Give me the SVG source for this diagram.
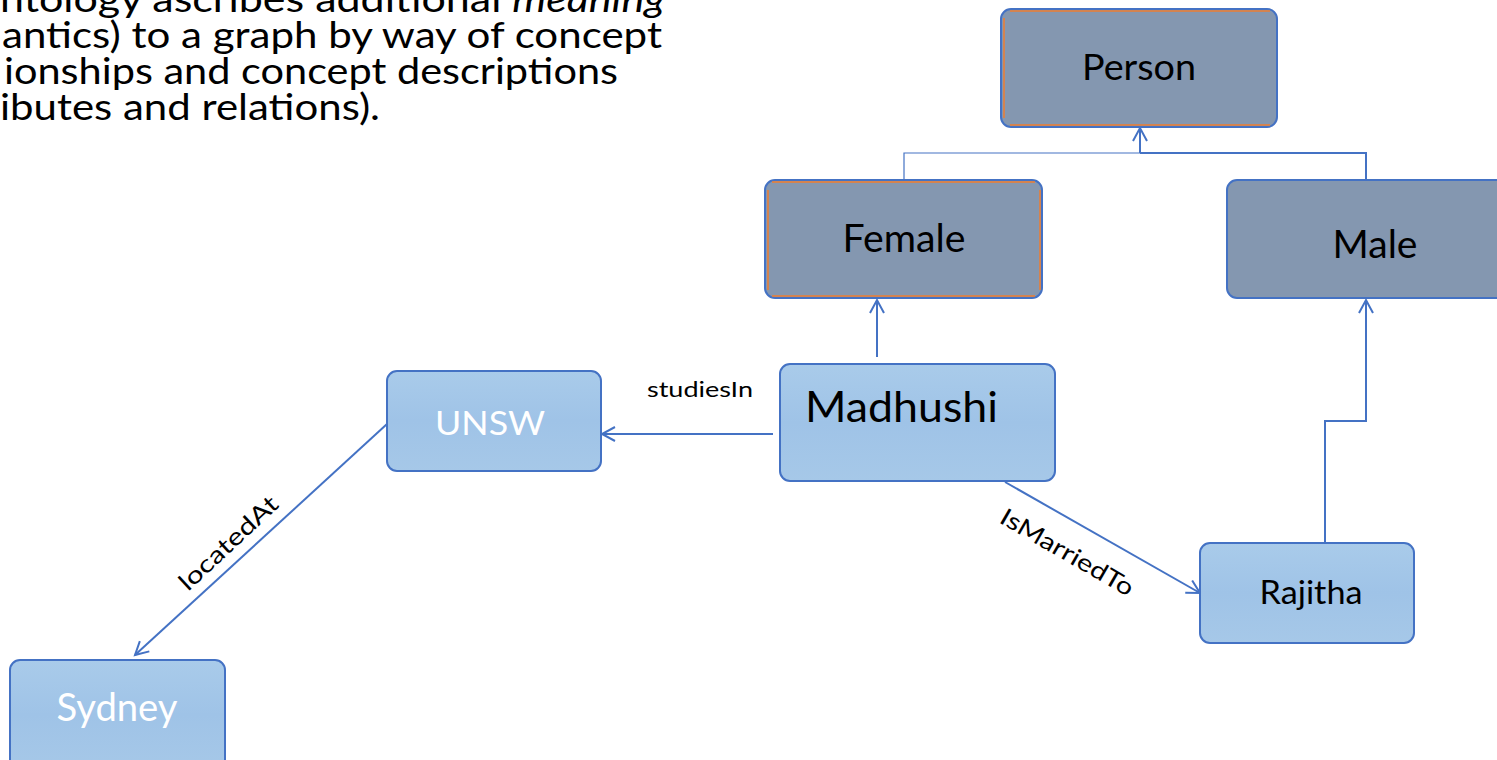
<svg xmlns="http://www.w3.org/2000/svg" width="1497" height="760" viewBox="0 0 1497 760">
<defs>
<marker id="arr" markerUnits="userSpaceOnUse" markerWidth="20" markerHeight="20" refX="14" refY="8" orient="auto">
<path d="M1,1 L14,8 L1,15" fill="none" stroke="#4472c4" stroke-width="2"/>
</marker>
<linearGradient id="lg" x1="0" y1="0" x2="0" y2="1">
<stop offset="0" stop-color="#a9cbea"/>
<stop offset="0.5" stop-color="#9fc3e7"/>
<stop offset="1" stop-color="#a6c8e8"/>
</linearGradient>
</defs>
<style>
.dark{fill:#8497b0;stroke:#4472c4;stroke-width:2}
.light{fill:url(#lg);stroke:#4472c4;stroke-width:2}
.orange{fill:none;stroke:#ed7d31;stroke-width:1.5}
.t{font-family:Lato,"Open Sans",sans-serif;fill:#000}
.w{font-family:Lato,"Open Sans",sans-serif;fill:#fff}
.c{fill:none;stroke:#4472c4;stroke-width:2}
</style>
<g id="intro" class="t" font-size="37">
<text x="0" y="12" textLength="665" lengthAdjust="spacingAndGlyphs">ntology ascribes additional <tspan font-style="italic">meaning</tspan></text>
<text x="2" y="48" textLength="660" lengthAdjust="spacingAndGlyphs">antics) to a graph by way of concept</text>
<text x="4" y="84" textLength="614" lengthAdjust="spacingAndGlyphs">ionships and concept descriptions</text>
<text x="0" y="120" textLength="380" lengthAdjust="spacingAndGlyphs">ibutes and relations).</text>
</g>
<g id="connectors">
<path d="M904,180 V153 H1140" fill="none" stroke="#4472c4" stroke-width="1.2"/>
<path class="c" d="M1366,180 V153 H1140"/>
<path class="c" d="M1140,153 V128" marker-end="url(#arr)"/>
<path class="c" d="M877,357 V300" marker-end="url(#arr)"/>
<path class="c" d="M773,434 H602" marker-end="url(#arr)"/>
<path class="c" d="M387,424 L135,655" marker-end="url(#arr)"/>
<path class="c" d="M1005,482 L1200,593" marker-end="url(#arr)"/>
<path class="c" d="M1325,543 V421 H1366 V300" marker-end="url(#arr)"/>
<text class="t" x="647" y="397" font-size="22" textLength="106" lengthAdjust="spacingAndGlyphs">studiesIn</text>
<text class="t" font-size="24" transform="translate(188,592) rotate(-43)" textLength="126" lengthAdjust="spacingAndGlyphs">locatedAt</text>
<text class="t" font-size="24" transform="translate(998,522) rotate(30)" textLength="150" lengthAdjust="spacingAndGlyphs">IsMarriedTo</text>
</g>
<g id="person">
<rect class="dark" x="1001" y="9" width="276" height="118" rx="10"/>
<path class="orange" d="M1010,11 H1270 M1004,18 V118 M1010,125 H1270"/>
<text class="t" x="1139" y="80" font-size="36" text-anchor="middle" textLength="114" lengthAdjust="spacingAndGlyphs">Person</text>
</g>
<g id="female">
<rect class="dark" x="765" y="180" width="277" height="118" rx="10"/>
<path class="orange" d="M772,182 H1035 M768,190 V290 M772,296 H1035 M1040,190 V290"/>
<text class="t" x="904" y="252" font-size="38" text-anchor="middle" textLength="123" lengthAdjust="spacingAndGlyphs">Female</text>
</g>
<g id="male">
<rect class="dark" x="1227" y="180" width="290" height="118" rx="10"/>
<text class="t" x="1375" y="258" font-size="39" text-anchor="middle" textLength="85" lengthAdjust="spacingAndGlyphs">Male</text>
</g>
<g id="madhushi">
<rect class="light" x="780" y="364" width="275" height="117" rx="10"/>
<text class="t" x="805" y="422" font-size="42" textLength="193" lengthAdjust="spacingAndGlyphs">Madhushi</text>
</g>
<g id="unsw">
<rect class="light" x="387" y="371" width="214" height="100" rx="10"/>
<text class="w" x="490" y="435" font-size="33" text-anchor="middle" textLength="110" lengthAdjust="spacingAndGlyphs">UNSW</text>
</g>
<g id="sydney">
<rect class="light" x="10" y="660" width="215" height="110" rx="10"/>
<text class="w" x="117" y="721" font-size="38" text-anchor="middle" textLength="121" lengthAdjust="spacingAndGlyphs">Sydney</text>
</g>
<g id="rajitha">
<rect class="light" x="1200" y="543" width="214" height="100" rx="10"/>
<text class="t" x="1311" y="604" font-size="33" text-anchor="middle" textLength="103" lengthAdjust="spacingAndGlyphs">Rajitha</text>
</g>
</svg>
